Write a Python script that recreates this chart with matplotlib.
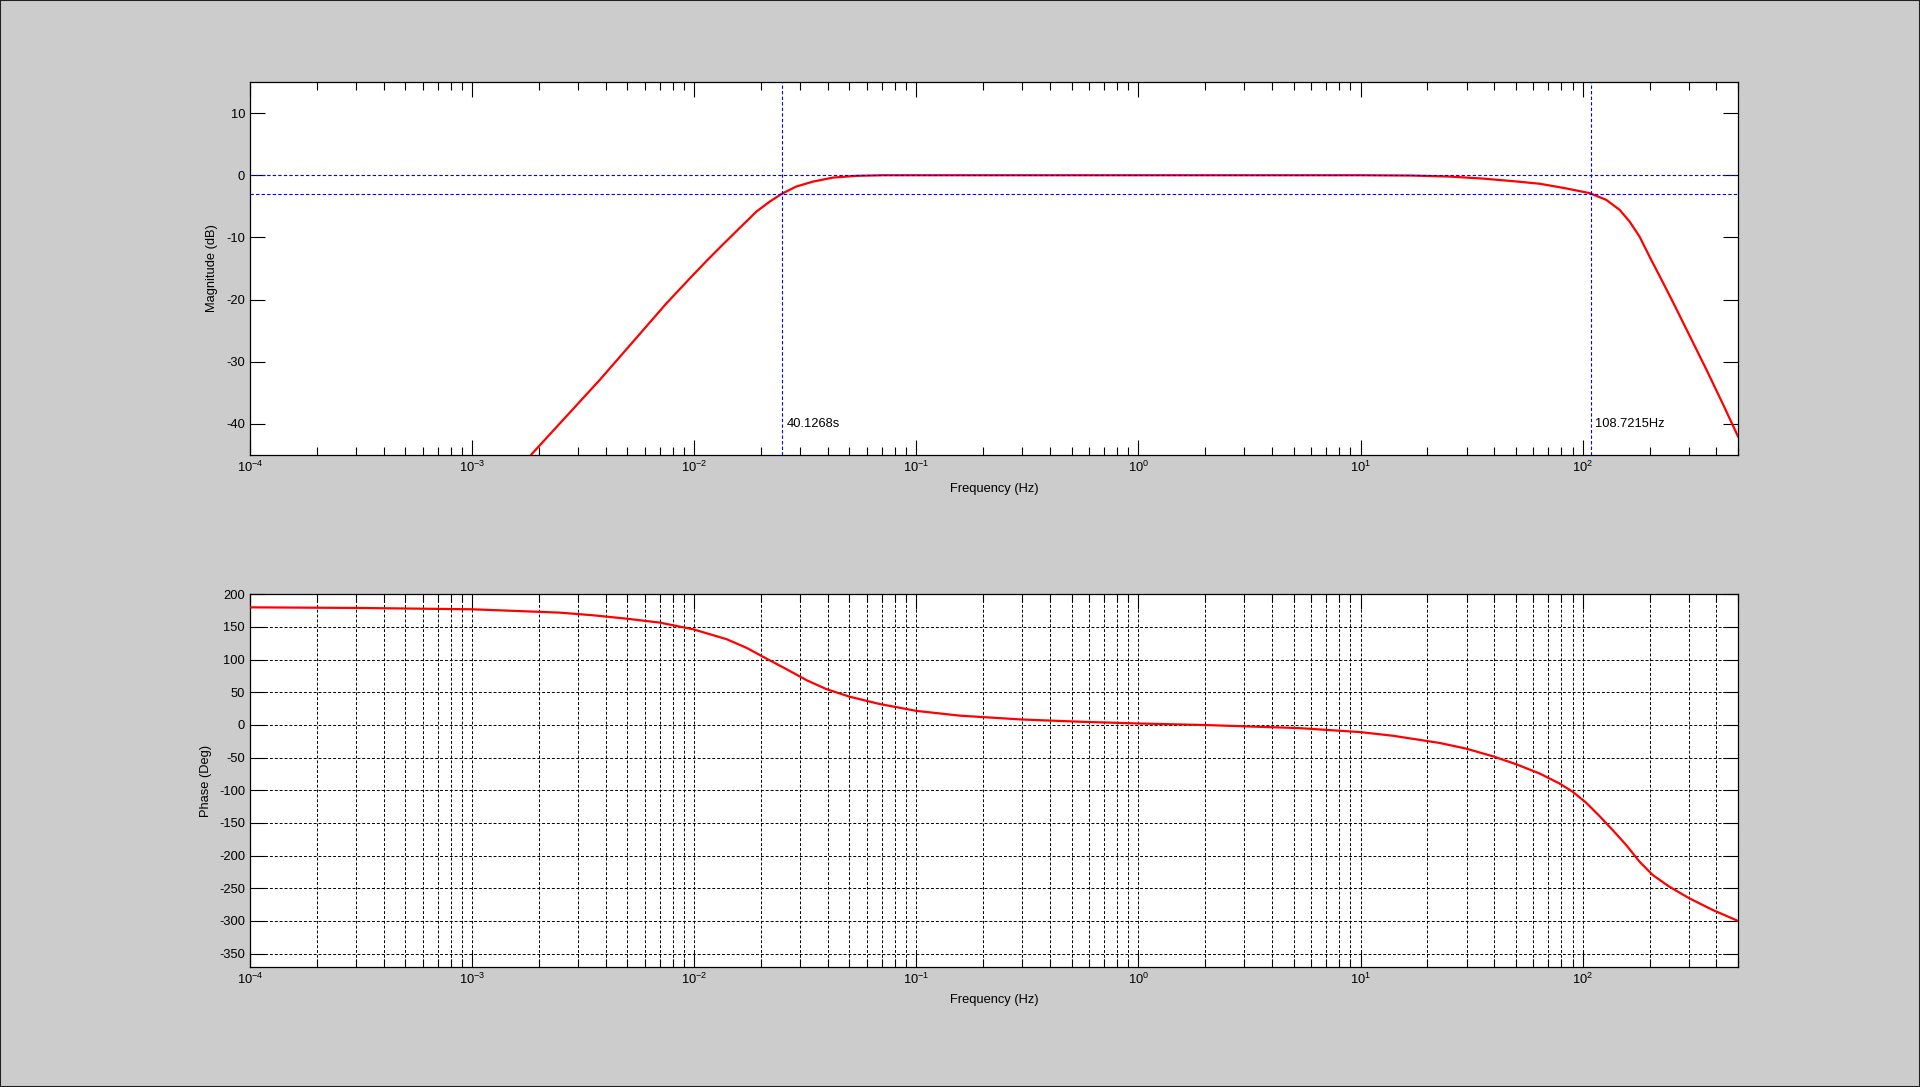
import numpy as np
import matplotlib
matplotlib.use("Agg")
import matplotlib.pyplot as plt
from matplotlib.patches import Rectangle

# ==========================
# Data
# ==========================

# magnitude curve (Hz, dB)
mag_freq = [1.0e-3, 1.85e-3, 3.76e-3, 7.50e-3, 9.55e-3, 1.135e-2, 1.35e-2,
            1.60e-2, 1.905e-2, 2.19e-2, 2.49e-2, 2.88e-2, 3.43e-2, 4.22e-2,
            5.37e-2, 7.08e-2, 1.0, 10.0, 16.9, 25.2, 35.6, 50.1, 64.0, 82.8,
            107.4, 127.6, 146.6, 162.6, 180.3, 200.0, 221.8, 254.7, 302.7,
            359.7, 427.6, 500.0]
mag_db = [-55.6, -44.9, -32.9, -20.6, -16.6, -13.8, -11.1,
          -8.5, -5.85, -4.23, -2.95, -1.82, -1.02, -0.38,
          -0.1, 0.0, 0.0, 0.0, -0.05, -0.22, -0.54, -1.0, -1.37, -2.07,
          -2.88, -3.96, -5.57, -7.46, -9.88, -13.1, -16.2, -20.4, -25.8,
          -31.2, -36.8, -42.0]

# phase curve (Hz, deg)
phase_freq = [1e-4, 3.16e-4, 1e-3, 2.48e-3, 3.51e-3, 4.94e-3, 7.00e-3, 9.89e-3,
              1.40e-2, 1.72e-2, 2.11e-2, 2.60e-2, 3.20e-2, 3.93e-2, 5.01e-2,
              6.84e-2, 0.1, 0.157, 0.199, 0.299, 0.557, 1.0, 2.07, 3.16, 5.25,
              10.0, 14.0, 22.7, 29.9, 39.4, 50.2, 64.0, 78.7, 90.2, 103.8,
              119.1, 136.5, 157.0, 180.3, 206.5, 245.5, 302.0, 384.6, 500.0]
phase_deg = [180, 179, 177, 171.9, 167.8, 162.7, 156.6, 146.4,
             131.2, 118, 101.7, 85.4, 68.6, 54.9, 43.2,
             32, 21.5, 14.2, 12, 8.3, 4.8, 2.2, -0.3, -2.4, -4.8,
             -11, -16.6, -27.6, -36.3, -48, -60.2, -74.4, -89.7, -102.4, -119.3,
             -139.6, -161, -183.9, -209.4, -229.7, -247.6, -265.4, -283.2, -300]

# cut-off markers
low_cut_period = 40.1268       # s
high_cut_freq = 108.7215       # Hz
ref_levels = [0, -3]           # dB

x_range = [1e-4, 500]
mag_range = [-45, 15]
phase_range = [-371, 200]
mag_ticks = [-40, -30, -20, -10, 0, 10]
phase_ticks = [-350, -300, -250, -200, -150, -100, -50, 0, 50, 100, 150, 200]

# ==========================
# Style
# ==========================

plt.rcParams['font.family'] = ['Liberation Sans', 'DejaVu Sans']
plt.rcParams['mathtext.fontset'] = 'custom'
plt.rcParams['mathtext.rm'] = 'Liberation Sans'
plt.rcParams['mathtext.it'] = 'Liberation Sans:italic'
plt.rcParams['mathtext.bf'] = 'Liberation Sans:bold'
plt.rcParams['axes.unicode_minus'] = False
plt.rcParams['font.size'] = 9.3

fig = plt.figure(figsize=(19.2, 10.87), dpi=100)
fig.patch.set_facecolor('#cccccc')
fig.patches.append(Rectangle((0, 0), 1, 1, transform=fig.transFigure,
                             fill=False, edgecolor='#202020', linewidth=1.5))

ax1 = fig.add_axes([0.1302, 0.5814, 0.775, 0.3432])
ax2 = fig.add_axes([0.1302, 0.1101, 0.775, 0.3432])


def style_axes(ax):
    ax.set_xscale('log')
    ax.set_xlim(x_range)
    ax.set_facecolor('white')
    for s in ax.spines.values():
        s.set_linewidth(0.9)
        s.set_color('black')
    ax.tick_params(which='both', direction='in', top=True, right=True,
                   colors='black', labelsize=9.3, width=0.8)
    ax.tick_params(which='major', length=10.8, pad=3.5)
    ax.tick_params(which='minor', length=5.6)
    ax.xaxis.set_major_locator(matplotlib.ticker.LogLocator(base=10, numticks=20))
    ax.xaxis.set_minor_locator(matplotlib.ticker.LogLocator(
        base=10, subs=np.arange(2, 10), numticks=20))
    ax.yaxis.set_minor_locator(matplotlib.ticker.NullLocator())


# ==========================
# Magnitude
# ==========================

style_axes(ax1)
ax1.plot(mag_freq, mag_db, color='#ff0000', linewidth=1.6, zorder=3)

low_cut_freq = 1.0 / low_cut_period
for lvl in ref_levels:
    ax1.axhline(lvl, color='#0000ff', linewidth=0.8, dashes=(3, 2), zorder=4)
for fc in [low_cut_freq, high_cut_freq]:
    ax1.axvline(fc, color='#0000ff', linewidth=0.8, dashes=(3, 2), zorder=4)

ax1.annotate(f"{low_cut_period:.4f}s", xy=(low_cut_freq, -40), xytext=(3, 0),
             textcoords='offset points', va='center', ha='left', fontsize=9.3)
ax1.annotate(f"{high_cut_freq:.4f}Hz", xy=(high_cut_freq, -40), xytext=(3, 0),
             textcoords='offset points', va='center', ha='left', fontsize=9.3)

ax1.set_ylim(mag_range)
ax1.set_yticks(mag_ticks)
ax1.set_xlabel('Frequency (Hz)', va='center')
ax1.set_ylabel('Magnitude (dB)', va='center')
ax1.xaxis.set_label_coords(0.5, -0.09)
ax1.yaxis.set_label_coords(-0.0252, 0.5)

# ==========================
# Phase
# ==========================

style_axes(ax2)
ax2.plot(phase_freq, phase_deg, color='#ff0000', linewidth=1.6, zorder=3)
ax2.set_ylim(phase_range)
ax2.set_yticks(phase_ticks)
ax2.grid(True, which='major', axis='both', color='black', linewidth=0.7,
         dashes=(3, 2))
ax2.grid(True, which='minor', axis='x', color='black', linewidth=0.7,
         dashes=(3, 2))
ax2.set_axisbelow(True)
ax2.set_xlabel('Frequency (Hz)', va='center')
ax2.set_ylabel('Phase (Deg)', va='center')
ax2.xaxis.set_label_coords(0.5, -0.088)
ax2.yaxis.set_label_coords(-0.0298, 0.5)

fig.savefig('out.png', dpi=100, facecolor=fig.get_facecolor())
